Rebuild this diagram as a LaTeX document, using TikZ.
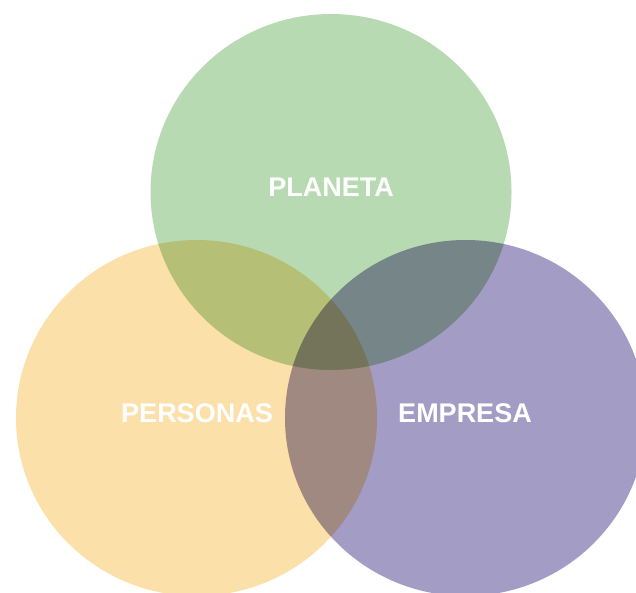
\documentclass[tikz,border=0pt]{standalone}
\usepackage{fontspec}
\setmainfont{Liberation Sans}
\usepackage{tikz}
\definecolor{planetagreen}{HTML}{B8DAB2}
\definecolor{personasyellow}{HTML}{FBE0A9}
\definecolor{empresapurple}{HTML}{A39CC4}
\tikzset{lbl/.style={text=white,font=\fontsize{27}{27}\selectfont\bfseries}}

\begin{document}
\begin{tikzpicture}[x=1pt,y=-1pt]
\useasboundingbox (0,0) rectangle (636,593);
\clip (0,0) rectangle (636,593);
\begin{scope}[blend mode=multiply]
\fill[planetagreen] (331,192) ellipse [x radius=180.5pt, y radius=178pt];
\fill[personasyellow] (196.5,418) ellipse [x radius=180.5pt, y radius=178pt];
\fill[empresapurple] (465.5,418) ellipse [x radius=180.5pt, y radius=178pt];
\end{scope}
\node[lbl] (planeta) at (331,187) {PLANETA};
\node[lbl] (personas) at (197,413) {PERSONAS};
\node[lbl] (empresa) at (465,413) {EMPRESA};
\end{tikzpicture}
\end{document}
